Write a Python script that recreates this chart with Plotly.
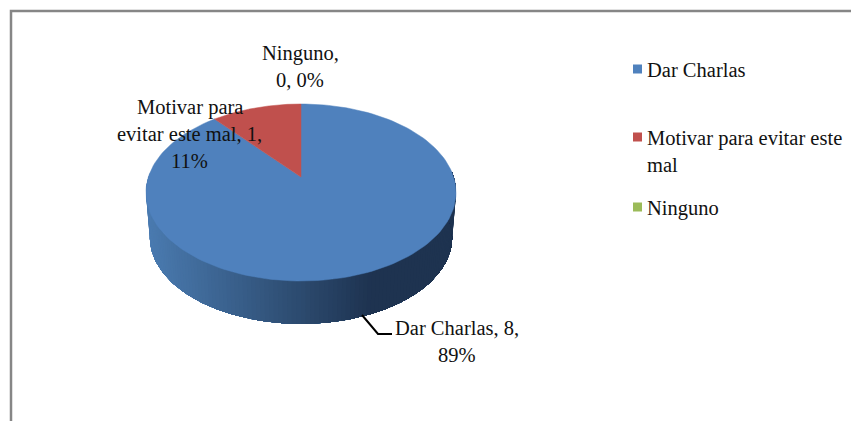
"""Torta 3D de Excel: Plotly no tiene pie en perspectiva, se proyecta a mano."""

import numpy as np
import plotly.graph_objects as go

categories = ["Dar Charlas", "Motivar para evitar este mal", "Ninguno"]
values = [8, 1, 0]
percents = [89, 11, 0]
colors = ["#4f81bd", "#c0504d", "#9bbb59"]

label_lines = [
    ["Dar Charlas, 8,", "89%"],
    ["Motivar para", "evitar este mal, 1,", "11%"],
    ["Ninguno,", "0, 0%"],
]
label_pos = [(457, 328), (189.5, 107), (300, 53)]

legend_lines = [["Dar Charlas"], ["Motivar para evitar este", "mal"], ["Ninguno"]]
legend_y = [69, 137, 207]

FONT = "Liberation Serif"
FS = 20.5
LINE_H = 27

# geometria de la torta en pixeles de la figura
CX, CY, RY, K = 301, 192.5, 88.5, 0.175
RX = 155 * np.sqrt(1 - K ** 2)
DEPTH_Y, DEPTH_S = 45, 0.975

SIDE_LEFT = np.array([74, 122, 175])
SIDE_MID = np.array([44, 74, 110])
SIDE_DARK = np.array([30, 51, 80])


def rim(frac, scale=1.0, dy=0.0):
    """Punto del borde para una fraccion (horario desde arriba), con perspectiva."""
    t = 2 * np.pi * np.asarray(frac, dtype=float)
    u, v = np.sin(t), np.cos(t)
    d = 1 + K * v
    x = CX + scale * RX * u / d
    y = CY + dy - scale * (RY * v + RY * K) / d
    return x, y


def side_color(x):
    pos = (x - 150) / 302
    if pos < 0.5:
        c = SIDE_LEFT + (SIDE_MID - SIDE_LEFT) * pos / 0.5
    elif pos < 0.73:
        c = SIDE_MID + (SIDE_DARK - SIDE_MID) * (pos - 0.5) / 0.23
    else:
        c = SIDE_DARK
    return "rgb(%d,%d,%d)" % tuple(c)


fig = go.Figure()

# lateral: se pinta de izquierda a derecha, cada tira tapa hasta el final (sin costuras)
steps = np.linspace(0.76, 0.24, 131)
for i, a in enumerate(steps[:-1]):
    fr = steps[i:]
    x1, y1 = rim(fr)
    x2, y2 = rim(fr[::-1], DEPTH_S, DEPTH_Y)
    col = side_color(x1[0])
    fig.add_trace(go.Scatter(
        x=list(x1) + list(x2), y=list(y1) + list(y2), mode="lines", fill="toself",
        fillcolor=col, line=dict(width=0), hoverinfo="skip", showlegend=False,
    ))

# cara superior de cada porcion
total = sum(values)
start = 0.0
for name, val, col in zip(categories, values, colors):
    end = start + val / total
    if val > 0:
        x, y = rim(np.linspace(start, end, 160))
        fig.add_trace(go.Scatter(
            x=[CX] + list(x) + [CX], y=[CY - RY * K] + list(y) + [CY - RY * K],
            mode="lines", fill="toself", fillcolor=col, line=dict(color=col, width=0.5),
            name=name, hoverinfo="skip", showlegend=False,
        ))
    start = end

# marcadores de la leyenda
fig.add_trace(go.Scatter(
    x=[637.5] * 3, y=legend_y, mode="markers",
    marker=dict(symbol="square", size=9, color=colors),
    hoverinfo="skip", showlegend=False,
))

# textos, linea por linea porque el interlineado es mayor que el de plotly
for lines, (lx, ly) in zip(label_lines, label_pos):
    for i, line in enumerate(lines):
        fig.add_annotation(x=lx, y=ly + i * LINE_H, text=line, showarrow=False,
                           xanchor="center", yanchor="middle")
for lines, ly in zip(legend_lines, legend_y):
    for i, line in enumerate(lines):
        fig.add_annotation(x=647, y=ly + 1 + i * LINE_H, text=line, showarrow=False,
                           xanchor="left", yanchor="middle", xshift=-2)

# linea guia y marco
fig.add_shape(type="path", path="M 362 315 L 378 334 L 392 334",
              line=dict(color="#000000", width=2))
fig.add_shape(type="path", path="M 11 421 L 11 11 L 851 11",
              line=dict(color="#868686", width=2.5))

fig.update_layout(
    width=851, height=421, margin=dict(l=0, r=0, t=0, b=0),
    paper_bgcolor="white", plot_bgcolor="white",
    font=dict(family=FONT, size=FS, color="#111111"),
    xaxis=dict(range=[0, 851], visible=False, fixedrange=True),
    yaxis=dict(range=[421, 0], visible=False, fixedrange=True),
)
# el body trae 8px de margen por defecto
fig.write_html("out.html", config=dict(displayModeBar=False),
               post_script="document.body.style.margin='0';document.body.style.overflow='hidden';")
